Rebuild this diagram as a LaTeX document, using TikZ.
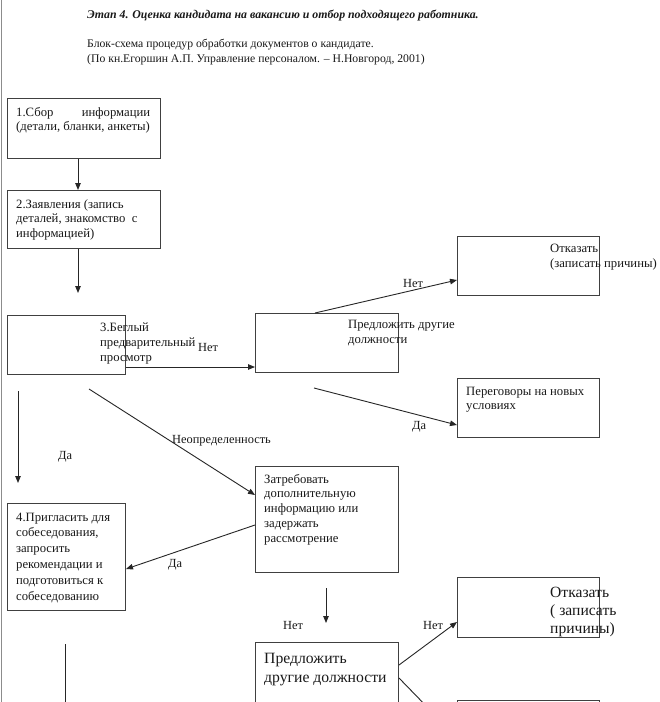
\documentclass[tikz,border=0pt]{standalone}
\usepackage{fontspec}
\setmainfont{Liberation Serif}
\usetikzlibrary{arrows.meta}
\newcommand{\tb}[4]{\parbox[t]{#1}{\raggedright\fontsize{#2}{#3}\selectfont #4}}
\begin{document}
\begin{tikzpicture}[x=1pt,y=-1pt,
  box/.style={draw=black!75,line width=1pt,anchor=north west,inner sep=0pt},
  txt/.style={anchor=base west,inner sep=0pt,text=black!90},
  lab/.style={anchor=base west,inner sep=0pt,font=\fontsize{12.4}{14}\selectfont,text=black!90},
  arr/.style={draw=black!85,line width=0.9pt,-{Triangle[length=7pt,width=5.5pt]}},
  ln/.style={draw=black!85,line width=0.9pt}]
\useasboundingbox[fill=white] (0,0) rectangle (660,702);
\clip (0,0) rectangle (660,702);
\draw[black!45,line width=1pt] (1,0) -- (1,702);
% title
\node[txt] (title) at (87,18) {\fontsize{11.85}{13}\selectfont\bfseries\itshape Этап 4. Оценка кандидата на вакансию и отбор подходящего работника.};
\node[txt] (sub) at (87,47) {\tb{420pt}{11.7}{15}{Блок-схема процедур обработки документов о кандидате.\\(По кн.Егоршин А.П. Управление персоналом. -- Н.Новгород, 2001)}};
% boxes
\node[box,minimum width=153,minimum height=60] (b1) at (7,98) {};
\node[box,minimum width=153,minimum height=58] (b2) at (7,190) {};
\node[box,minimum width=118,minimum height=59] (b3) at (7,315) {};
\node[box,minimum width=143,minimum height=59] (b4) at (255,313) {};
\node[box,minimum width=142,minimum height=59] (b5) at (457,236) {};
\node[box,minimum width=142,minimum height=59] (b6) at (457,378) {};
\node[box,minimum width=143,minimum height=106] (b7) at (255,466) {};
\node[box,minimum width=118,minimum height=107] (b8) at (7,503) {};
\node[box,minimum width=143,minimum height=80] (b9) at (255,642) {};
\node[box,minimum width=142,minimum height=60] (b10) at (457,577) {};
\node[box,minimum width=142,minimum height=40] (b11) at (457,700) {};
% box texts
\node[txt] (t1) at (16,116) {\tb{134pt}{12.7}{14}{\makebox[134pt][s]{1.Сбор\hfill информации}\\(детали, бланки, анкеты)}};
\node[txt] (t2) at (16,208) {\tb{150pt}{12.7}{14.5}{2.Заявления (запись\\деталей, знакомство\ \ с\\информацией)}};
\node[txt] (t3) at (100,331) {\tb{130pt}{12.7}{15}{3.Беглый\\предварительный\\просмотр}};
\node[txt] (t4) at (348,328) {\tb{150pt}{12.7}{15}{Предложить другие\\должности}};
\node[txt] (t5) at (550,252) {\tb{150pt}{12.7}{15}{Отказать\\(записать причины)}};
\node[txt] (t6) at (466,395) {\tb{150pt}{12.7}{14}{Переговоры на новых\\условиях}};
\node[txt] (t7) at (264,483) {\tb{150pt}{12.7}{14.75}{Затребовать\\дополнительную\\информацию или\\задержать\\рассмотрение}};
\node[txt] (t8) at (16,521) {\tb{130pt}{12.7}{15.8}{4.Пригласить для\\собеседования,\\запросить\\рекомендации и\\подготовиться к\\собеседованию}};
\node[txt] (t9) at (264,663) {\tb{150pt}{15.7}{19}{Предложить\\другие должности}};
\node[txt] (t10) at (550,597) {\tb{120pt}{15.6}{18}{Отказать\\( записать\\причины)}};
% labels
\node[lab] (l1) at (198,351) {Нет};
\node[lab] (l2) at (403,287) {Нет};
\node[lab] (l3) at (412,429) {Да};
\node[lab] (l4) at (172,443) {Неопределенность};
\node[lab] (l5) at (58,459) {Да};
\node[lab] (l6) at (168,567) {Да};
\node[lab] (l7) at (283,629) {Нет};
\node[lab] (l8) at (423,629) {Нет};
% free coordinates
\coordinate (c2) at (78,293);
\coordinate (c5) at (314,388);
\coordinate (c6) at (89,389);
\coordinate (c7s) at (18,391);
\coordinate (c7e) at (18,483);
\coordinate (c9s) at (326,588);
\coordinate (c9e) at (326,623);
\coordinate (c11) at (432,712);
\coordinate (c12s) at (65,644);
\coordinate (c12e) at (65,712);
% connectors
\draw[arr] ([xshift=71]b1.south west) -- ([xshift=71]b2.north west);
\draw[arr] ([xshift=71]b2.south west) -- (c2);
\draw[arr] ([yshift=8]b3.south east) -- ([yshift=6]b4.south west);
\draw[arr] ([xshift=60]b4.north west) -- ([yshift=16]b5.south west);
\draw[arr] (c5) -- ([yshift=13]b6.south west);
\draw[arr] (c6) -- ([yshift=-29]b7.north west);
\draw[arr] (c7s) -- (c7e);
\draw[arr] ([yshift=-59]b7.north west) -- ([yshift=-66]b8.north east);
\draw[arr] (c9s) -- (c9e);
\draw[arr] ([yshift=-23]b9.north east) -- ([yshift=16]b10.south west);
\draw[ln] ([yshift=-36]b9.north east) -- (c11);
\draw[ln] (c12s) -- (c12e);
\end{tikzpicture}
\end{document}
